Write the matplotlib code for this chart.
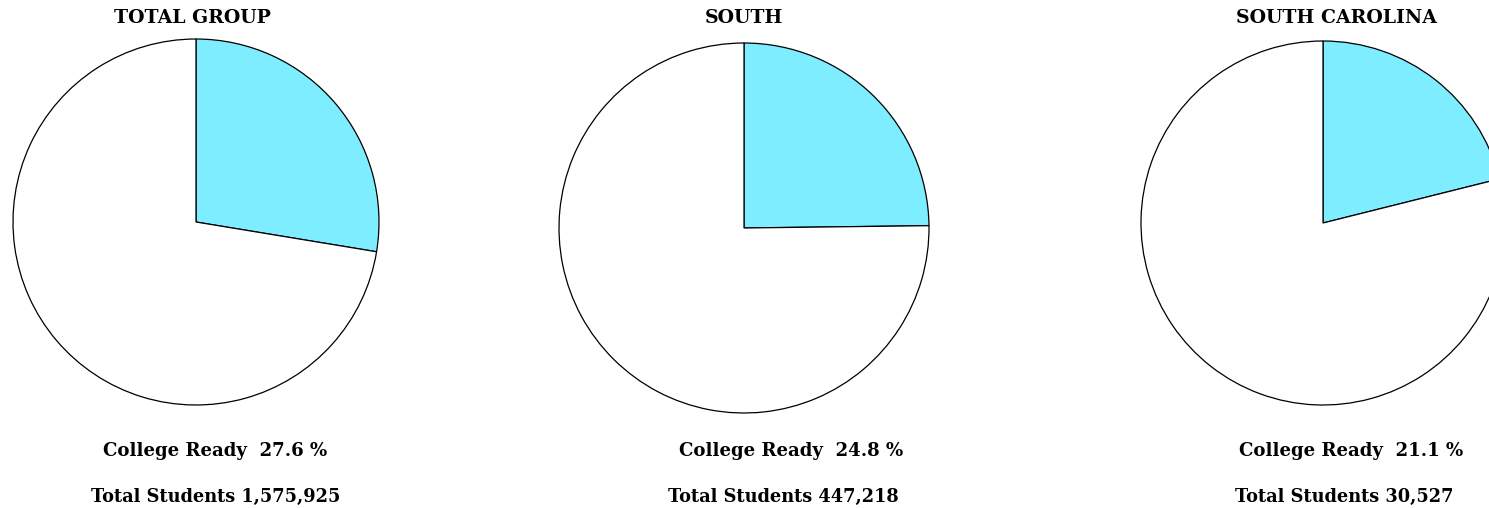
import matplotlib
matplotlib.use("Agg")
import matplotlib.pyplot as plt

# Data
groups = ["TOTAL GROUP", "SOUTH", "SOUTH CAROLINA"]
college_ready = [27.6, 24.8, 21.1]
total_students = ["1,575,925", "447,218", "30,527"]

# Layout in pixels (figure is 1489 x 508)
W, H = 1489, 508
centers = [(196, 222), (744, 228), (1323, 223)]
radii = [183, 185, 182]
title_x = [192, 744, 1336]
label_x = [215, 791, 1351]
total_x = [216, 783, 1344]

plt.rcParams['font.family'] = ['DejaVu Serif']

fig = plt.figure(figsize=(W / 100, H / 100), dpi=100)

for i, name in enumerate(groups):
    cx, cy = centers[i]
    r = radii[i]
    ax = fig.add_axes([(cx - r) / W, 1 - (cy + r) / H, 2 * r / W, 2 * r / H])
    ax.pie([college_ready[i], 100 - college_ready[i]],
           colors=['#7DEDFF', 'white'],
           startangle=90, counterclock=False, radius=1,
           wedgeprops=dict(edgecolor='black', linewidth=0.9))
    ax.set_xlim(-1, 1)
    ax.set_ylim(-1, 1)
    ax.set_aspect('equal')
    ax.axis('off')
    for p in ax.patches:
        p.set_clip_on(False)

    fig.text(title_x[i] / W, 1 - 18 / H, name, ha='center', va='center',
             fontsize=13.6, fontweight='bold')
    fig.text(label_x[i] / W, 1 - 451 / H,
             f"College Ready  {college_ready[i]} %", ha='center', va='center',
             fontsize=13.1, fontweight='bold')
    fig.text(total_x[i] / W, 1 - 497 / H,
             f"Total Students {total_students[i]}", ha='center', va='center',
             fontsize=12.8, fontweight='bold')

fig.savefig("out.png", dpi=100)
